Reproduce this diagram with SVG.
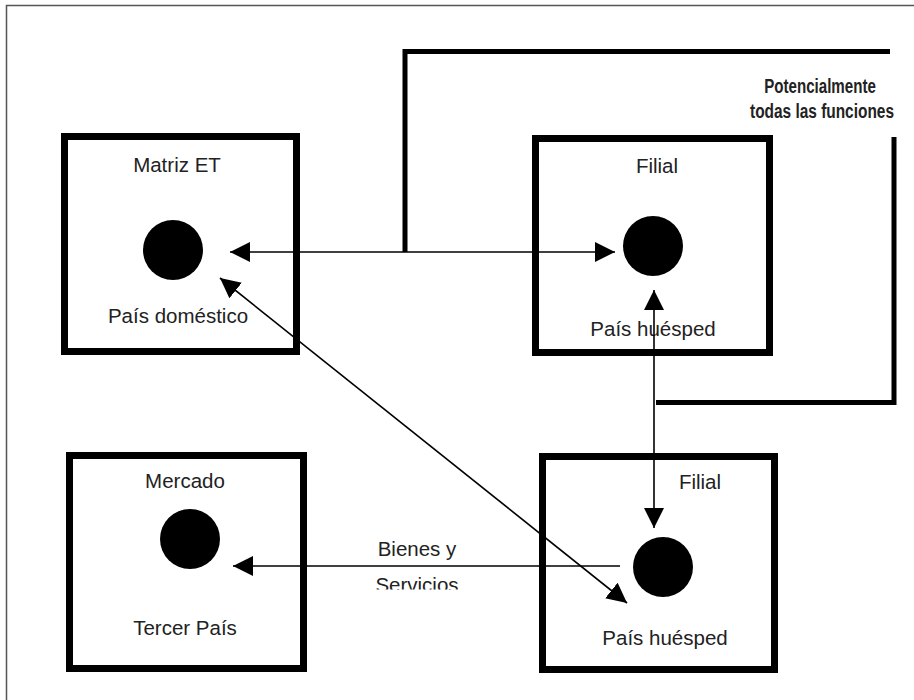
<svg xmlns="http://www.w3.org/2000/svg" width="914" height="700" viewBox="0 0 914 700">
<style>
.box{fill:#fff;stroke:#000;stroke-width:7}
.dot{fill:#000}
.lbl{font-family:"Liberation Sans",Arial,sans-serif;font-size:20.5px;fill:#222;text-anchor:middle}
.bold{font-weight:bold;font-size:21px}
.con{stroke:#000;stroke-width:1.6;fill:none}
.brk{stroke:#000;stroke-width:5;fill:none}
</style>
<defs>
<marker id="ah" markerUnits="userSpaceOnUse" markerWidth="22" markerHeight="22" refX="20" refY="10" orient="auto-start-reverse" viewBox="0 0 22 22">
<path d="M0,0 L20,10 L0,20 Z" fill="#000"/>
</marker>
<clipPath id="clipServ"><rect x="300" y="560" width="240" height="29.5"/></clipPath>
</defs>
<rect x="6.5" y="5.5" width="930" height="720" fill="#fff" stroke="#555" stroke-width="1.5"/>
<g id="bracket">
<path class="brk" d="M405,252 V51.5 H890"/>
<path class="brk" d="M894,137 V402.5 H656"/>
<text class="lbl bold" transform="translate(820,93) scale(0.72,1)">Potencialmente</text>
<text class="lbl bold" transform="translate(822,118) scale(0.735,1)">todas las funciones</text>
</g>
<g id="matriz">
<rect class="box" x="64.5" y="136.5" width="232" height="215"/>
<circle class="dot" cx="173" cy="250" r="30"/>
<text class="lbl" x="177" y="172">Matriz ET</text>
<text class="lbl" x="178" y="323">País doméstico</text>
</g>
<g id="filial1">
<rect class="box" x="535.5" y="138.5" width="234" height="214"/>
<circle class="dot" cx="653" cy="246" r="30"/>
<text class="lbl" x="657" y="173">Filial</text>
<text class="lbl" x="653" y="336">País huésped</text>
</g>
<g id="mercado">
<rect class="box" x="69.5" y="455.5" width="234" height="213"/>
<circle class="dot" cx="190" cy="539" r="30"/>
<text class="lbl" x="185" y="488">Mercado</text>
<text class="lbl" x="185" y="635">Tercer País</text>
</g>
<g id="filial2">
<rect class="box" x="542.5" y="456.5" width="232" height="213"/>
<circle class="dot" cx="663" cy="567" r="30"/>
<text class="lbl" x="700" y="489">Filial</text>
<text class="lbl" x="665" y="645">País huésped</text>
</g>
<g id="connectors">
<line class="con" x1="230" y1="252" x2="615" y2="252" marker-start="url(#ah)" marker-end="url(#ah)"/>
<line class="con" x1="654" y1="290" x2="654" y2="528" marker-start="url(#ah)" marker-end="url(#ah)"/>
<line class="con" x1="220" y1="278" x2="627" y2="603" marker-start="url(#ah)" marker-end="url(#ah)"/>
<line class="con" x1="620" y1="566" x2="233" y2="566" marker-end="url(#ah)"/>
<text class="lbl" x="417" y="556">Bienes y</text>
<text class="lbl" x="417" y="592" clip-path="url(#clipServ)">Servicios</text>
</g>
</svg>
